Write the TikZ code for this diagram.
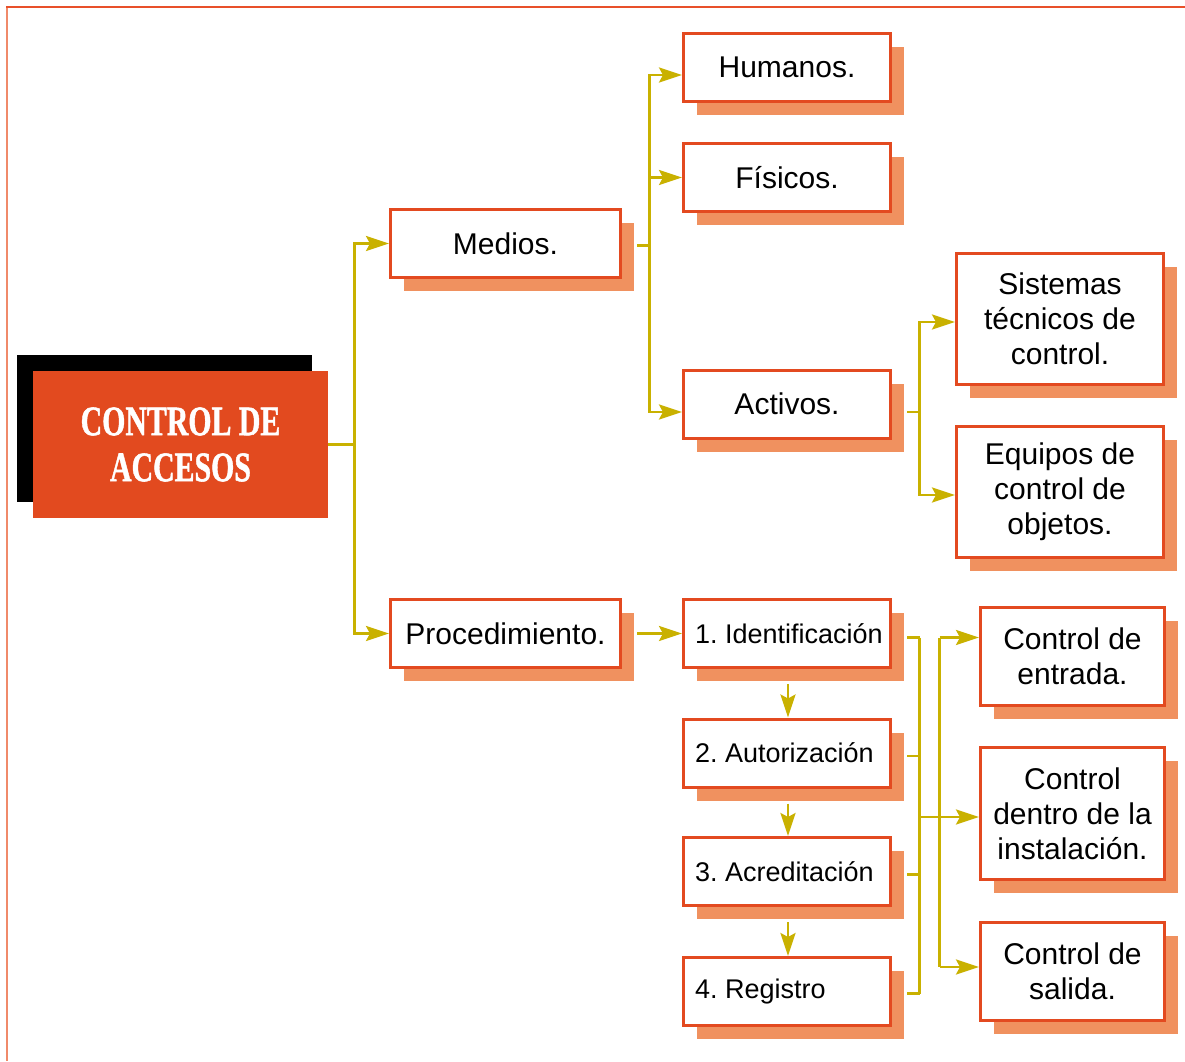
\documentclass[tikz,border=0pt]{standalone}
\usepackage{fontspec}
\setmainfont{Liberation Sans}
\newfontfamily\titlefont{Liberation Serif}[BoldFeatures={FakeBold=1.3}]
\usetikzlibrary{arrows.meta,shadows}
\definecolor{boxred}{HTML}{E34A20}
\definecolor{shadowc}{HTML}{F0915F}
\definecolor{titlered}{HTML}{E24A1F}
\definecolor{connc}{HTML}{C9B100}
\definecolor{frametop}{HTML}{E8502A}
\definecolor{frameleft}{HTML}{F08A6A}
\begin{document}
\frenchspacing
\begin{tikzpicture}[x=1pt,y=-1pt,
  box/.style={draw=boxred, line width=3pt, fill=white, inner sep=0pt, align=center,
    font=\fontsize{30}{35}\selectfont,
    drop shadow={shadow xshift=13.5pt, shadow yshift=-13.5pt, fill=shadowc, opacity=1}},
  wbox/.style={box, minimum width=230pt, minimum height=68pt},
  mbox/.style={box, minimum width=207pt, minimum height=68pt},
  tbox/.style={box, minimum width=207pt, minimum height=131pt},
  cbox/.style={box, minimum width=184pt, minimum height=98pt},
  dbox/.style={box, minimum width=184pt, minimum height=132pt},
  sbox/.style={box, inner xsep=11.5pt, minimum width=207pt, minimum height=68pt,
    font=\fontsize{27}{32}\selectfont\frenchspacing},
  titlebox/.style={fill=titlered, text=white, inner sep=0pt, minimum width=295pt, minimum height=147pt,
    align=center, font=\titlefont\fontsize{42}{46}\selectfont\bfseries,
    drop shadow={shadow xshift=-16pt, shadow yshift=16pt, fill=black, opacity=1}},
  conn/.style={draw=connc, line width=2.7pt},
  arr/.style={conn, -{Stealth[length=23pt,width=15pt,inset=4pt]}}
]
\useasboundingbox (0,0) rectangle (1185,1061);
\draw[frameleft, line width=2pt] (7,7) -- (7,1061);
\draw[frametop, line width=2pt] (6,7) -- (1185,7);

% title
\node[titlebox] (title) at (180.5,444.5) {\scalebox{0.71}[1]{CONTROL DE}\\\scalebox{0.71}[1]{ACCESOS}};

% level 1
\node[wbox] (medios) at (505.5,243.5) {Medios.};
\node[wbox] (proc) at (505.5,633.5) {Procedimiento.};

% medios children
\node[mbox] (hum) at (787,67.5) {Humanos.};
\node[mbox] (fis) at (787,177.5) {Físicos.};
\node[mbox] (act) at (787,404) {Activos.};
\node[tbox] (sis) at (1060,319) {Sistemas\\técnicos de\\control.};
\node[tbox] (equ) at (1060,492) {Equipos de\\control de\\objetos.};

% procedure steps
\node[sbox] (id) at (787,633.5) {\makebox[184pt][l]{1. Identificación}};
\node[sbox] (aut) at (787,753) {\makebox[184pt][l]{2. Autorización}};
\node[sbox] (acr) at (787,871.5) {\makebox[184pt][l]{3. Acreditación}};
\node[sbox] (reg) at (787,991.5) {\makebox[184pt][l]{4. Registro}};

% controls
\node[cbox] (entrada) at (1072.5,656.5) {Control de\\entrada.};
\node[dbox] (dentro) at (1072.5,813.5) {Control\\dentro de la\\instalación.};
\node[cbox] (salida) at (1072.5,971) {Control de\\salida.};

% connectors: title
\draw[conn] (title.east) -- ++(26,0) coordinate (b1);
\draw[arr] (b1) |- (medios.west);
\draw[arr] (b1) |- (proc.west);

% medios
\draw[conn] ([shift={(15,2)}]medios.east) -- ++(12.5,0) coordinate (b2);
\draw[arr] (b2) |- ([shift={(0,7.5)}]hum.west);
\draw[arr] (b2) |- (fis.west);
\draw[arr] (b2) |- ([shift={(0,8)}]act.west);

% activos
\draw[conn] ([shift={(15,8)}]act.east) -- ++(12.5,0) coordinate (b3);
\draw[arr] (b3) |- ([shift={(0,3)}]sis.west);
\draw[arr] (b3) |- ([shift={(0,3)}]equ.west);

% procedimiento
\draw[arr] ([xshift=15pt]proc.east) -- (id.west);
\draw[arr] ([shift={(1,15)}]id.south) -- ([xshift=1pt]aut.north);
\draw[arr] ([shift={(1,15)}]aut.south) -- ([xshift=1pt]acr.north);
\draw[arr] ([shift={(1,15)}]acr.south) -- ([xshift=1pt]reg.north);

% right bus
\draw[conn] ([shift={(15,4)}]id.east) -- ++(12.5,0) coordinate (bt);
\draw[conn] ([shift={(15,3)}]aut.east) -- ++(12.5,0);
\draw[conn] ([shift={(15,3)}]acr.east) -- ++(12.5,0);
\draw[conn] ([shift={(15,2)}]reg.east) -- ++(12.5,0) coordinate (bb);
\draw[conn] (bt) -- (bb);
\path (bt |- dentro.west) ++(0,3.5) coordinate (bm);
\draw[arr] (bm) -- (dentro.west |- bm);
\path (bt) ++(20,0) coordinate (bx1);
\path (bx1 |- salida.west) ++(0,-4) coordinate (bx2);
\draw[conn] (bx1) -- (bx2);
\draw[arr] (bx1) -- (entrada.west |- bx1);
\draw[arr] (bx2) -- (salida.west |- bx2);
\end{tikzpicture}
\end{document}
